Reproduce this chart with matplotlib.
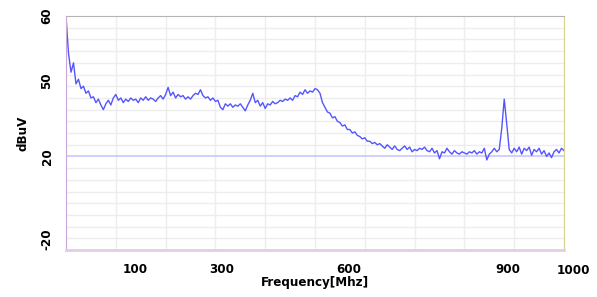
import matplotlib.pyplot as plt
import numpy as np

# 频率 (MHz) 和测得电平 (dBuV)，每 5 MHz 读一次
freq = np.arange(0, 1001, 5)
level = [
    59.6, 44, 36, 40, 31, 33, 29, 30, 27, 28,
    25, 25.5, 23, 24.5, 22, 20, 22.5, 24, 22, 25,
    26.5, 24, 25, 23, 24.5, 23.5, 25, 24, 24.5, 23,
    25, 24, 25.5, 24, 25, 24.5, 23.5, 25, 26, 24.5,
    26.5, 29.5, 26, 27.5, 25, 26.5, 25.5, 26, 24.5, 25.5,
    24.5, 26, 27, 26.5, 28.5, 26, 25, 25.5, 24, 25,
    23.5, 24, 21, 20, 22.5, 21.5, 22.5, 21, 22, 21.5,
    22.5, 21, 19.5, 22, 24, 27, 23, 24, 21.5, 23,
    20.5, 22.5, 22, 23.5, 22.5, 23, 24, 23.5, 24.5, 24,
    25, 24, 26, 25.5, 27.5, 26.5, 28.5, 27, 28, 27.5,
    29, 28.5, 27, 23, 21, 19, 18.5, 16.5, 17, 15,
    14.5, 13, 13.5, 11.5, 11.5, 10, 10.5, 9, 8.5, 7.5,
    8, 6.5, 6.5, 5.5, 6, 5, 5.5, 4.5, 3.5, 5,
    4, 3, 4.5, 3, 2.5, 3.5, 4.5, 3, 4, 2,
    3, 2.5, 3.5, 3, 4, 2.5, 2, 3.5, 1.5, 2.5,
    -1, 2, 1.5, 3.5, 2, 1, 2.5, 1.5, 1, 2,
    1.5, 1, 2, 1.5, 2.5, 1, 2, 1.5, 3.5, -1.5,
    1, 2, 3.5, 2, 3, 12, 24.5, 14, 3, 1.5,
    3.5, 2, 4, 1, 3.5, 2.5, 4, 0.5, 3, 2,
    3.5, 1, 2.5, 0, 1.5, -0.5, 2, 3, 1.5, 3.5,
    2.5,
]
ref_level = 0

ytick_pos = [60, 32.5, 0, -35.5]
ytick_text = ['60', '50', '20', '-20']
xtick_pos = [139, 313, 568, 888]
xtick_text = ['100', '300', '600', '900']

font = ['DejaVu Sans']
txt = dict(family=font, fontweight='bold', fontsize=9.5, fontstretch='condensed')

fig = plt.figure(figsize=(5.97, 2.97), dpi=100)
ax = fig.add_axes([0.1106, 0.158, 0.8341, 0.788])

ax.set_xlim(0, 1000)
ax.set_ylim(-40, 60)

# 网格
ax.set_xticks(np.arange(0, 1001, 100), minor=True)
ax.set_yticks(np.arange(-40, 61, 5), minor=True)
ax.grid(which='minor', color='#ededed', linewidth=1)
ax.tick_params(which='both', length=0)

ax.axhline(ref_level, color='#c8c8ff', linewidth=1.2)
ax.plot(freq, level, color='#5555ff', linewidth=1.0)

ax.set_yticks(ytick_pos)
ax.set_yticklabels(ytick_text, rotation=90, va='center', **txt)
ax.set_xticks(xtick_pos)
ax.set_xticklabels(xtick_text, **txt)
ax.tick_params(axis='x', pad=9)
ax.tick_params(axis='y', pad=9)
ax.text(1018, -0.06, '1000', transform=ax.get_xaxis_transform(), ha='center',
        va='top', clip_on=False, **txt)

ax.set_xlabel('Frequency[Mhz]', labelpad=0, **txt)
ax.set_ylabel('dBuV', labelpad=8, **txt)

ax.spines['left'].set_color('#c8a8d8')
ax.spines['bottom'].set_color('#e2cce6')
ax.spines['bottom'].set_linewidth(2)
ax.spines['top'].set_color('#b4b4b4')
ax.spines['right'].set_color('#d4d48c')

fig.savefig('out.png', dpi=100)
